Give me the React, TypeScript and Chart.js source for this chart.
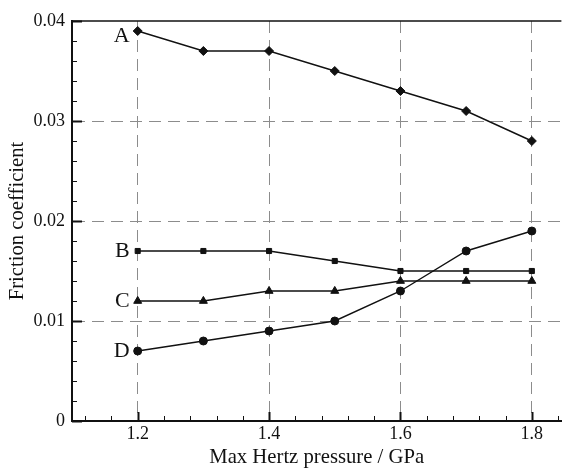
import React, { useEffect, useRef } from "react";
import { Chart, registerables } from "chart.js";

Chart.register(...registerables);

const pressures = [1.2, 1.3, 1.4, 1.5, 1.6, 1.7, 1.8];
const seriesA = [0.039, 0.037, 0.037, 0.035, 0.033, 0.031, 0.028];
const seriesB = [0.017, 0.017, 0.017, 0.016, 0.015, 0.015, 0.015];
const seriesC = [0.012, 0.012, 0.013, 0.013, 0.014, 0.014, 0.014];
const seriesD = [0.007, 0.008, 0.009, 0.01, 0.013, 0.017, 0.019];
const seriesNames = ["A", "B", "C", "D"];
const xTickValues = [1.2, 1.4, 1.6, 1.8];
const yTickValues = [0, 0.01, 0.02, 0.03, 0.04];
const xTitle = "Max Hertz pressure / GPa";
const yTitle = "Friction coefficient";

const FONT = '"Liberation Serif", "Times New Roman", serif';
const INK = "#111";

const framePlugin = {
  id: "frame",
  afterDatasetsDraw(chart: any) {
    const { ctx, chartArea: ca, scales } = chart;
    const x = scales.x;
    const y = scales.y;
    ctx.save();
    ctx.strokeStyle = INK;
    // top border
    ctx.lineWidth = 1.5;
    ctx.beginPath();
    ctx.moveTo(ca.left, ca.top);
    ctx.lineTo(ca.right, ca.top);
    ctx.stroke();

    // x ticks (inward)
    const xMinor = 0.04;
    for (let i = -10; i <= 30; i++) {
      const v = xTickValues[0] + i * xMinor;
      if (v < x.min - 1e-9 || v > x.max + 1e-9) continue;
      const isMajor = xTickValues.some((t) => Math.abs(t - v) < 1e-6);
      const px = Math.round(x.getPixelForValue(v)) + 0.5;
      ctx.lineWidth = isMajor ? 2 : 1;
      const len = isMajor ? 9 : 5;
      ctx.beginPath();
      ctx.moveTo(px, ca.bottom);
      ctx.lineTo(px, ca.bottom - len);
      ctx.stroke();
    }
    // y ticks (inward)
    const yMinor = 0.002;
    for (let i = 0; i <= 40; i++) {
      const v = i * yMinor;
      if (v < y.min - 1e-9 || v > y.max + 1e-9) continue;
      const isMajor = yTickValues.some((t) => Math.abs(t - v) < 1e-6);
      const py = Math.round(y.getPixelForValue(v)) + 0.5;
      ctx.lineWidth = isMajor ? 2 : 1;
      const len = isMajor ? 10 : 5;
      ctx.beginPath();
      ctx.moveTo(ca.left, py);
      ctx.lineTo(ca.left + len, py);
      ctx.stroke();
    }

    // series labels next to first point
    ctx.fillStyle = INK;
    ctx.font = "22px " + FONT;
    ctx.textAlign = "right";
    ctx.textBaseline = "middle";
    chart.data.datasets.forEach((ds: any, i: number) => {
      const meta = chart.getDatasetMeta(i);
      const pt = meta.data[0];
      if (!pt) return;
      const dy = i === 0 ? 5 : 0;
      ctx.fillText(seriesNames[i], pt.x - 8, pt.y + dy);
    });
    ctx.restore();
  },
};

export default function App() {
  const ref = useRef<HTMLCanvasElement | null>(null);

  useEffect(() => {
    if (!ref.current) return;
    const mk = (data: number[], style: string, radius: number) => ({
      label: "",
      data: pressures.map((p, i) => ({ x: p, y: data[i] })),
      borderColor: INK,
      backgroundColor: INK,
      borderWidth: 1.4,
      pointStyle: style,
      pointRadius: radius,
      pointBorderWidth: 1,
      pointBackgroundColor: INK,
      pointBorderColor: INK,
      tension: 0,
      fill: false,
    });
    const chart = new Chart(ref.current, {
      type: "line",
      data: {
        datasets: [
          mk(seriesA, "rectRot", 4.5),
          mk(seriesB, "rect", 3.6),
          mk(seriesC, "triangle", 4.6),
          mk(seriesD, "circle", 4),
        ] as any,
      },
      options: {
        animation: false,
        responsive: false,
        devicePixelRatio: 1,
        layout: { padding: { top: 21, right: 0, left: 0, bottom: 0 } },
        plugins: {
          legend: { display: false },
          tooltip: { enabled: false },
        },
        scales: {
          x: {
            type: "linear",
            min: 1.1,
            max: 1.845,
            afterBuildTicks: (scale: any) => {
              scale.ticks = xTickValues.map((v) => ({ value: v }));
            },
            afterFit: (scale: any) => {
              scale.height = 49;
            },
            ticks: {
              color: INK,
              font: { family: FONT, size: 18 },
              padding: 2,
              maxRotation: 0,
              autoSkip: false,
              callback: (v: any) => String(v),
            },
            grid: {
              color: "#8c8c8c",
              lineWidth: 1,
              drawTicks: false,
            },
            border: { color: INK, width: 2, dash: [12, 7] },
            title: {
              display: true,
              text: xTitle,
              color: INK,
              font: { family: FONT, size: 20.7 },
              padding: { top: 0, bottom: 0 },
            },
          },
          y: {
            type: "linear",
            min: 0,
            max: 0.04,
            afterBuildTicks: (scale: any) => {
              scale.ticks = yTickValues.map((v) => ({ value: v }));
            },
            afterFit: (scale: any) => {
              scale.width = 72;
            },
            ticks: {
              color: INK,
              font: { family: FONT, size: 18 },
              padding: 7,
              autoSkip: false,
              callback: (v: any) => String(v),
            },
            grid: {
              color: (c: any) =>
                c.tick && (c.tick.value === 0 || c.tick.value === 0.04)
                  ? "rgba(0,0,0,0)"
                  : "#8c8c8c",
              lineWidth: 1,
              drawTicks: false,
            },
            border: { color: INK, width: 2, dash: [12, 7] },
            title: {
              display: true,
              text: yTitle,
              color: INK,
              font: { family: FONT, size: 20.7 },
              padding: { top: 5, bottom: 0 },
            },
          },
        },
      },
      plugins: [framePlugin],
    } as any);
    return () => chart.destroy();
  }, []);

  return (
    <div
      style={{
        position: "fixed",
        left: 0,
        top: 0,
        width: 567,
        height: 470,
        background: "#fff",
      }}
    >
      <canvas ref={ref} width={567} height={470} />
    </div>
  );
}
